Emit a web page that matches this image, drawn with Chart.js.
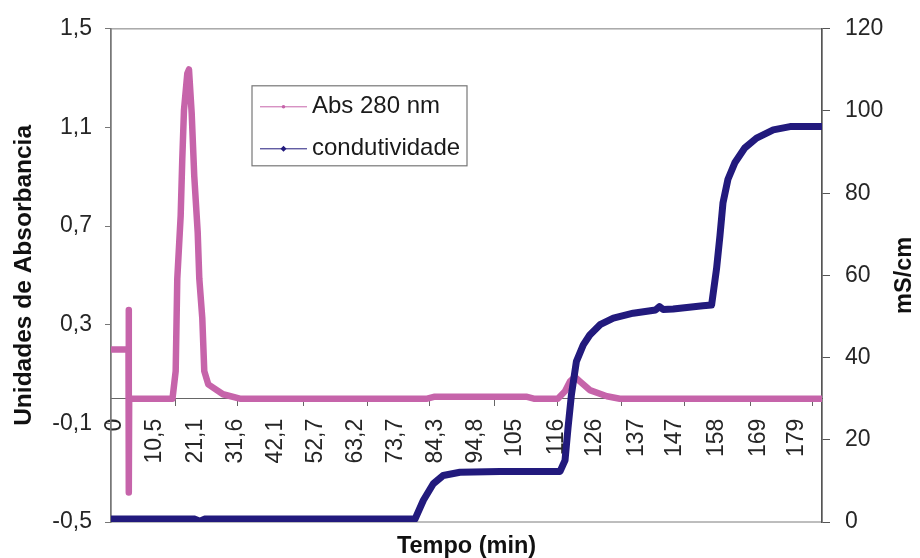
<!DOCTYPE html>
<html>
<head>
<meta charset="utf-8">
<script src="https://cdn.jsdelivr.net/npm/chart.js@4.4.1/dist/chart.umd.min.js"></script>
<style>
  html, body { margin: 0; padding: 0; background: #fff; }
</style>
</head>
<body>
<canvas id="chart" width="920" height="558"></canvas>
<script>
// time axis labels, as printed (decimal comma)
const timeLabels = ["0", "10,5", "21,1", "31,6", "42,1", "52,7", "63,2", "73,7", "84,3",
  "94,8", "105", "116", "126", "137", "147", "158", "169", "179"];
// small tick marks on the time axis (min)
const tickMarkMinutes = [15.8, 32.3, 49.4, 66.2, 82.7, 99.8, 116.3, 133.1, 149.7, 166.8, 183.3];

// Abs 280 nm (left axis)
const absTime = [-1.05, 3.55, 3.6, 3.65, 3.72, 15.1, 15.94, 16.36, 17.25, 17.67,
  18.12, 18.99, 19.43, 20.14, 20.82, 21.72, 22.14, 22.93, 23.45, 24.5,
  28.36, 32.8, 82.0, 84.0, 108.0, 110.0, 116.3, 118.2, 119.5, 120.8,
  122.1, 124.7, 129.2, 132.6, 185.7];
const absValue = [0.2, 0.2, 0.36, -0.38, 0.0, 0.0, 0.112, 0.487, 0.742, 0.97,
  1.171, 1.319, 1.335, 1.158, 0.903, 0.675, 0.487, 0.326, 0.112, 0.058,
  0.018, 0.0, 0.0, 0.008, 0.008, 0.0, 0.0, 0.03, 0.07, 0.088,
  0.07, 0.035, 0.01, 0.0, 0.0];

// condutividade, mS/cm (right axis)
const condTime = [-1.05, 21.0, 22.3, 23.5, 78.8, 81.0, 83.6, 86.2, 90.6, 101.1,
  116.9, 118.2, 119.0, 119.9, 121.2, 123.0, 124.7, 127.4, 130.9, 136.1,
  142.0, 143.0, 144.0, 146.6, 154.4, 156.7, 158.0, 158.9, 159.7, 161.0,
  162.8, 165.4, 168.5, 172.9, 177.3, 185.7];
const condValue = [0.7, 0.7, 0.2, 0.7, 0.7, 5.3, 9.3, 11.3, 12.1, 12.3,
  12.3, 15.0, 23.0, 31.1, 39.1, 43.1, 45.5, 48.0, 49.6, 50.8,
  51.6, 52.4, 51.7, 51.8, 52.6, 52.8, 61.6, 69.7, 77.7, 83.4,
  87.4, 91.0, 93.4, 95.4, 96.2, 96.2];

const xMin = -1.05;
const xMax = 185.7;
const pink = "#c664aa";
const navy = "#221a7d";
const tickFont = { size: 23 };

Chart.defaults.font.family = "'Liberation Sans', Arial, sans-serif";

const toPoints = (xs, ys) => xs.map((x, i) => ({ x: x, y: ys[i] }));

// grey box round the plot area
const frame = {
  id: "frame",
  beforeDraw(chart) {
    const { ctx, chartArea: a } = chart;
    ctx.save();
    ctx.strokeStyle = "#a8a8a8";
    ctx.lineWidth = 1.5;
    ctx.strokeRect(a.left, a.top, a.right - a.left, a.bottom - a.top);
    ctx.restore();
  },
};

// legend inside the plot, with a border
const boxLegend = {
  id: "boxLegend",
  afterDatasetsDraw(chart, args, opts) {
    const { ctx, chartArea } = chart;
    const x = chartArea.left + opts.x;
    const y = chartArea.top + opts.y;
    ctx.save();
    ctx.fillStyle = "#fff";
    ctx.fillRect(x, y, opts.width, opts.height);
    ctx.strokeStyle = "#777";
    ctx.lineWidth = 1.2;
    ctx.strokeRect(x, y, opts.width, opts.height);
    ctx.font = opts.fontSize + "px " + Chart.defaults.font.family;
    ctx.textBaseline = "middle";
    chart.data.datasets.forEach((ds, i) => {
      const rowY = y + opts.firstRow + i * opts.rowGap;
      ctx.strokeStyle = ds.borderColor;
      ctx.lineWidth = 1;
      ctx.beginPath();
      ctx.moveTo(x + 8, rowY);
      ctx.lineTo(x + 8 + opts.sample, rowY);
      ctx.stroke();
      ctx.fillStyle = ds.borderColor;
      const mx = x + 8 + opts.sample / 2;
      ctx.beginPath();
      if (i === 0) {
        ctx.arc(mx, rowY, 1.8, 0, Math.PI * 2);
      } else {
        ctx.moveTo(mx, rowY - 3); ctx.lineTo(mx + 3, rowY);
        ctx.lineTo(mx, rowY + 3); ctx.lineTo(mx - 3, rowY);
        ctx.closePath();
      }
      ctx.fill();
      ctx.fillStyle = "#1a1a1a";
      ctx.fillText(ds.label, x + 8 + opts.sample + 5, rowY);
    });
    ctx.restore();
  },
};

// right axis title, read bottom to top like the left one
const sideTitle = {
  id: "sideTitle",
  afterDraw(chart, args, opts) {
    const { ctx, chartArea } = chart;
    ctx.save();
    ctx.translate(chartArea.right + opts.offset, (chartArea.top + chartArea.bottom) / 2);
    ctx.rotate(-Math.PI / 2);
    ctx.font = "bold " + opts.fontSize + "px " + Chart.defaults.font.family;
    ctx.fillStyle = "#111";
    ctx.textAlign = "center";
    ctx.textBaseline = "middle";
    ctx.fillText(opts.text, 0, 0);
    ctx.restore();
  },
};

new Chart(document.getElementById("chart"), {
  type: "line",
  data: {
    datasets: [
      {
        label: "Abs 280 nm",
        data: toPoints(absTime, absValue),
        xAxisID: "x",
        yAxisID: "y",
        borderColor: pink,
        backgroundColor: pink,
        borderWidth: 6.5,
        pointRadius: 0,
        borderJoinStyle: "round",
        borderCapStyle: "round",
        order: 2,
      },
      {
        label: "condutividade",
        data: toPoints(condTime, condValue),
        xAxisID: "x",
        yAxisID: "y1",
        borderColor: navy,
        backgroundColor: navy,
        borderWidth: 7,
        pointRadius: 0,
        borderJoinStyle: "round",
        borderCapStyle: "round",
        order: 1,
      },
    ],
  },
  options: {
    responsive: false,
    animation: false,
    devicePixelRatio: 1,
    layout: { padding: { top: 25, left: 0, right: 0, bottom: 0 } },
    plugins: {
      legend: { display: false },
      tooltip: { enabled: false },
      boxLegend: { x: 141, y: 57, width: 215, height: 80, firstRow: 21, rowGap: 42, sample: 47, fontSize: 24 },
      sideTitle: { text: "mS/cm", offset: 83, fontSize: 23.5 },
    },
    scales: {
      // time axis crossing the absorbance axis at zero
      x: {
        type: "linear",
        min: xMin,
        max: xMax,
        position: { y: 0 },
        afterBuildTicks: (s) => {
          s.ticks = timeLabels.map((l) => ({ value: parseFloat(l.replace(",", ".")) }));
        },
        afterFit: (s) => { s.height = 0; },
        grid: { display: false, drawTicks: false },
        border: { display: true, color: "#666", width: 1 },
        ticks: {
          autoSkip: false,
          minRotation: 90,
          maxRotation: 90,
          padding: 20,
          color: "#262626",
          font: tickFont,
          callback: (v, i) => timeLabels[i],
        },
      },
      xMarks: {
        axis: "x",
        type: "linear",
        min: xMin,
        max: xMax,
        position: { y: 0 },
        afterBuildTicks: (s) => {
          s.ticks = tickMarkMinutes.map((v) => ({ value: v }));
        },
        afterFit: (s) => { s.height = 0; },
        ticks: { display: false },
        grid: { drawOnChartArea: false, drawTicks: true, tickLength: 7, color: "#666", lineWidth: 1 },
        border: { display: false },
      },
      xTitle: {
        axis: "x",
        type: "linear",
        position: "bottom",
        min: 0,
        max: 1,
        afterFit: (s) => { s.height = 36; },
        ticks: { display: false },
        grid: { display: false, drawTicks: false },
        border: { display: false },
        title: {
          display: true,
          text: "Tempo (min)",
          color: "#111",
          font: { size: 23.5, weight: "bold", lineHeight: 1 },
          padding: { top: 0, bottom: 0 },
        },
      },
      y: {
        position: "left",
        min: -0.5,
        max: 1.5,
        afterFit: (s) => { s.width = 111; },
        ticks: {
          stepSize: 0.4,
          padding: 13,
          color: "#262626",
          font: tickFont,
          callback: (v) => v.toFixed(1).replace(".", ","),
        },
        grid: { drawOnChartArea: false, tickLength: 6, color: "#777" },
        border: { color: "#777", width: 1.5 },
        title: {
          display: true,
          text: "Unidades de Absorbancia",
          color: "#111",
          font: { size: 24.5, weight: "bold" },
          padding: { top: 10, bottom: 0 },
        },
      },
      y1: {
        position: "right",
        min: 0,
        max: 120,
        afterFit: (s) => { s.width = 98; },
        ticks: { stepSize: 20, padding: 15, color: "#262626", font: tickFont },
        grid: { drawOnChartArea: false, tickLength: 8, color: "#555" },
        border: { color: "#555", width: 1.5 },
      },
    },
  },
  plugins: [frame, boxLegend, sideTitle],
});
</script>
</body>
</html>
